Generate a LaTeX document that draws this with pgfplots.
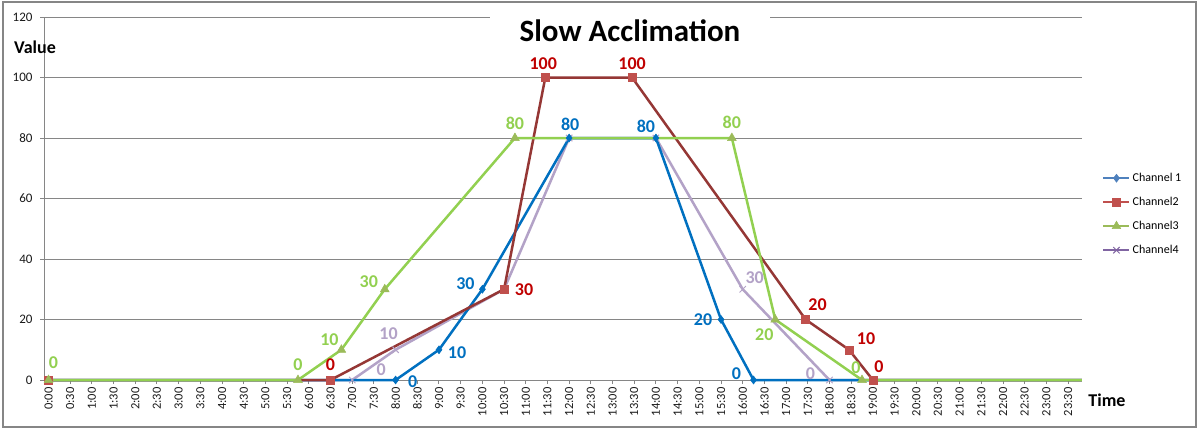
\documentclass[border=0pt]{standalone}
\usepackage{fontspec}
\setmainfont{Carlito}
\usepackage{pgfplots}
\usepackage{pgfplotstable}
\pgfplotsset{compat=1.18}

\definecolor{c1}{HTML}{0070C0}
\definecolor{c2line}{HTML}{953735}
\definecolor{c2mark}{HTML}{C0504D}
\definecolor{c2lab}{HTML}{C00000}
\definecolor{c3}{HTML}{92D050}
\definecolor{c3mark}{HTML}{9BBB59}
\definecolor{c4}{HTML}{B3A2C7}
\definecolor{leg1}{HTML}{4F81BD}
\definecolor{leg2}{HTML}{C0504D}
\definecolor{leg3}{HTML}{9BBB59}
\definecolor{leg4}{HTML}{8064A2}
\definecolor{gridc}{HTML}{868686}
\definecolor{tickc}{HTML}{1A1A1A}

% series (time in hours, value)
\pgfplotstableread{
t v
0 0
8 0
9 10
10 30
12 80
14 80
15.5 20
16.25 0
23.82 0
}\chone
\pgfplotstableread{
t v
0 0
6.5 0
10.5 30
11.45 100
13.45 100
17.45 20
18.45 10
19 0
23.82 0
}\chtwo
\pgfplotstableread{
t v
0 0
5.75 0
6.75 10
7.75 30
10.75 80
15.75 80
16.75 20
18.75 0
23.82 0
}\chthree
\pgfplotstableread{
t v
0 0
7 0
8 10
10.5 30
12 80
14 80
16 30
18 0
23.82 0
}\chfour

% data labels (point, offset in pt)
\pgfplotstableread{
t v dx dy
8 0 17 -2
9 10 18 -3
10 30 -17 6
12 80 1 14
14 80 -10 12
15.5 20 -18 0
16.25 0 -17 6
}\chonelab
\pgfplotstableread{
t v dx dy
6.5 0 0 15
10.5 30 20 0
11.45 100 -2 14
13.45 100 0 14
17.45 20 12 15
18.45 10 17 11
19 0 6 13
}\chtwolab
\pgfplotstableread{
t v dx dy
0 0 5 17
5.75 0 0 15
6.75 10 -12 10
7.75 30 -16 8
10.75 80 0 15
15.75 80 0 16
16.75 20 -11 -15
18.75 0 -6 12
}\chthreelab
\pgfplotstableread{
t v dx dy
7 0 29 10
8 10 -7 16
16 30 12 12
18 0 -19 6
}\chfourlab

\newcommand{\labfont}{\bfseries\fontsize{18}{18}\selectfont}

\pgfplotsset{
  labelplot/.style={
    draw=none, forget plot,
    nodes near coords={\pgfmathprintnumber{\pgfplotspointmeta}},
    point meta=y,
    visualization depends on={\thisrow{dx}\as\dx},
    visualization depends on={\thisrow{dy}\as\dy},
    nodes near coords style={anchor=center, xshift=\dx pt, yshift=\dy pt, font=\labfont, text=#1, inner sep=0pt},
  }
}

\begin{document}
\begin{tikzpicture}
\useasboundingbox (0,0) rectangle (1200pt,-431pt);
\fill[white] (0,0) rectangle (1200pt,-431pt);
\draw[gridc, line width=1.2pt] (3pt,-2pt) rectangle (1196pt,-427pt);
\begin{axis}[
  at={(44pt,-380pt)}, anchor=south west,
  scale only axis, width=1038pt, height=363pt,
  xmin=-0.104, xmax=23.82, ymin=0, ymax=120,
  clip=false,
  axis x line*=bottom, axis y line*=left,
  axis line style={gridc, line width=1pt},
  ytick={0,20,...,120},
  xtick={0,0.5,...,23.5},
  xticklabels={0:00,0:30,1:00,1:30,2:00,2:30,3:00,3:30,4:00,4:30,5:00,5:30,6:00,6:30,7:00,7:30,8:00,8:30,9:00,9:30,10:00,10:30,11:00,11:30,12:00,12:30,13:00,13:30,14:00,14:30,15:00,15:30,16:00,16:30,17:00,17:30,18:00,18:30,19:00,19:30,20:00,20:30,21:00,21:30,22:00,22:30,23:00,23:30},
  xticklabel style={rotate=90, anchor=east, font=\fontsize{12.5}{12.5}\selectfont, text=tickc},
  yticklabel style={font=\fontsize{13}{13}\selectfont, text=tickc, xshift=-4pt},
  /pgf/number format/assume math mode=true,
  tick align=outside, major tick length=4pt,
  tick style={gridc, line width=1pt},
  ymajorgrids, grid style={gridc, line width=1pt},
  legend style={at={(1.0193,0.573)}, anchor=north west, draw=none, fill=none, inner sep=0pt,
    font=\fontsize{12}{12}\selectfont, row sep=12pt, column sep=2pt,
    nodes={inner sep=0pt, text height=9pt, text depth=3pt}},
  legend cell align=left,
  legend image code/.code={\draw[mark repeat=2,mark phase=2,#1] plot coordinates {(0pt,0pt) (13pt,0pt) (26pt,0pt)};},
]
\addlegendimage{leg1, line width=2.5pt, mark=diamond*, mark size=4pt, mark options={fill=leg1, line width=0.5pt}}
\addlegendentry{Channel 1}
\addlegendimage{leg2, line width=2.5pt, mark=square*, mark size=4pt, mark options={fill=leg2, line width=0.5pt}}
\addlegendentry{Channel2}
\addlegendimage{leg3, line width=2.5pt, mark=triangle*, mark size=5pt, mark options={fill=leg3, line width=0.5pt}}
\addlegendentry{Channel3}
\addlegendimage{leg4, line width=2.5pt, mark=x, mark size=4.5pt, mark options={line width=1pt}}
\addlegendentry{Channel4}

\addplot[forget plot, c4, line width=2.5pt, mark=x, mark size=4.5pt, mark indices={1,...,8}, mark options={line width=1pt}] table[x=t,y=v] {\chfour};
\addplot[forget plot, c1, line width=2.5pt, mark=diamond*, mark size=4pt, mark indices={1,...,8}, mark options={fill=c1, line width=0.5pt}] table[x=t,y=v] {\chone};
\addplot[forget plot, c2line, line width=2.5pt, mark=square*, mark size=4pt, mark indices={1,...,8}, mark options={fill=c2mark, draw=c2mark, line width=0.5pt}] table[x=t,y=v] {\chtwo};
\addplot[forget plot, c3, line width=2.5pt, mark=triangle*, mark size=5pt, mark indices={1,...,8}, mark options={fill=c3mark, draw=c3mark, line width=0.5pt}] table[x=t,y=v] {\chthree};

\addplot[labelplot=c1] table[x=t,y=v] {\chonelab};
\addplot[labelplot=c2lab] table[x=t,y=v] {\chtwolab};
\addplot[labelplot=c3] table[x=t,y=v] {\chthreelab};
\addplot[labelplot=c4] table[x=t,y=v] {\chfourlab};
\end{axis}
\node[fill=white, inner xsep=30pt, inner ysep=4pt, font=\bfseries\fontsize{31}{31}\selectfont] at (630pt,-31pt) {Slow Acclimation};
\node[font=\bfseries\fontsize{18}{18}\selectfont] at (35pt,-47pt) {Value};
\node[font=\bfseries\fontsize{18}{18}\selectfont] at (1107pt,-400pt) {Time};
\end{tikzpicture}
\end{document}
